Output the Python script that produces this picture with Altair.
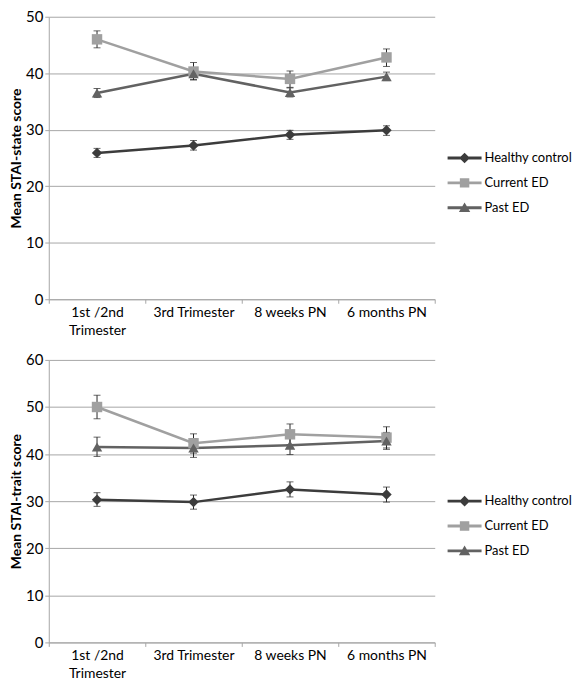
import altair as alt
import pandas as pd

categories = ["1st /2nd Trimester", "3rd Trimester", "8 weeks PN", "6 months PN"]
series = ["Healthy control", "Current ED", "Past ED"]
colors = ["#3c3c3c", "#a0a0a0", "#626262"]
marker_shapes = ["diamond", "square", "triangle-up"]

# STAI-state
state_healthy = [25.9, 27.2, 29.1, 29.9]
state_healthy_lo = [25.1, 26.4, 28.3, 29.0]
state_healthy_hi = [26.7, 28.1, 29.9, 30.7]
state_current = [46.0, 40.3, 39.0, 42.8]
state_current_lo = [44.5, 38.8, 37.5, 41.2]
state_current_hi = [47.5, 41.9, 40.4, 44.3]
state_past = [36.5, 39.9, 36.6, 39.4]
state_past_lo = [35.7, 38.9, 35.8, 38.7]
state_past_hi = [37.3, 40.8, 37.4, 40.2]

# STAI-trait
trait_healthy = [30.3, 29.8, 32.5, 31.4]
trait_healthy_lo = [28.9, 28.3, 30.9, 29.8]
trait_healthy_hi = [31.8, 31.3, 34.1, 33.0]
trait_current = [50.0, 42.3, 44.2, 43.5]
trait_current_lo = [47.5, 40.2, 42.0, 41.3]
trait_current_hi = [52.5, 44.3, 46.4, 45.8]
trait_past = [41.5, 41.3, 41.9, 42.8]
trait_past_lo = [39.5, 39.3, 39.9, 41.0]
trait_past_hi = [43.6, 43.3, 44.0, 44.6]

# legend symbols: short line with the marker on it
bar = "M-1.08,-0.09H1.08V0.09H-1.08Z"
legend_paths = [
    bar + " M0,-0.34L0.34,0L0,0.34L-0.34,0Z",
    bar + " M-0.3,-0.3H0.3V0.3H-0.3Z",
    bar + " M0,-0.34L0.36,0.27H-0.36Z",
]


def make_df(vals, los, his):
    rows = []
    for s, v, lo, hi in zip(series, vals, los, his):
        for c, a, b, d in zip(categories, v, lo, hi):
            rows.append({"series": s, "time": c, "value": a, "lo": b, "hi": d})
    return pd.DataFrame(rows)


state_df = make_df(
    [state_healthy, state_current, state_past],
    [state_healthy_lo, state_current_lo, state_past_lo],
    [state_healthy_hi, state_current_hi, state_past_hi],
)
trait_df = make_df(
    [trait_healthy, trait_current, trait_past],
    [trait_healthy_lo, trait_current_lo, trait_past_lo],
    [trait_healthy_hi, trait_current_hi, trait_past_hi],
)

FONT = "Lato"
GRID = "#a6a6a6"


def panel(df, ymax, title):
    base = alt.Chart(df)
    x = alt.X(
        "time:N",
        sort=categories,
        bandPosition=0.5,
        scale=alt.Scale(type="band", domain=categories, paddingInner=0, paddingOuter=0),
        axis=alt.Axis(
            title=None,
            labelAngle=0,
            tickBand="extent",
            tickSize=4,
            tickColor=GRID,
            domainColor=GRID,
            labelPadding=2,
            labelLineHeight=18,
            labelExpr="datum.value == '1st /2nd Trimester' ? ['1st /2nd', 'Trimester'] : datum.label",
        ),
    )
    yscale = alt.Scale(domain=[0, ymax], nice=False, zero=True)
    yaxis = alt.Axis(
        title=title,
        values=list(range(0, ymax + 1, 10)),
        grid=True,
        gridColor=GRID,
        domainColor=GRID,
        tickColor=GRID,
        tickSize=4,
        labelPadding=2,
        labelFontSize=15,
        titlePadding=2,
    )
    cscale = alt.Scale(domain=series, range=colors)

    rule = base.mark_rule(color="#262626", strokeWidth=1).encode(
        x=x, y=alt.Y("lo:Q", scale=yscale, axis=yaxis), y2="hi:Q"
    )
    cap_lo = base.mark_tick(color="#262626", size=7, thickness=1, orient="horizontal").encode(
        x=x, y=alt.Y("lo:Q", scale=yscale, axis=yaxis)
    )
    cap_hi = base.mark_tick(color="#262626", size=7, thickness=1, orient="horizontal").encode(
        x=x, y=alt.Y("hi:Q", scale=yscale, axis=yaxis)
    )
    line = base.mark_line(strokeWidth=2.5).encode(
        x=x,
        y=alt.Y("value:Q", scale=yscale, axis=yaxis),
        color=alt.Color("series:N", scale=cscale, legend=None),
    )
    pts = base.mark_point(filled=True, size=110, opacity=1).encode(
        x=x,
        y=alt.Y("value:Q", scale=yscale, axis=yaxis),
        color=alt.Color("series:N", scale=cscale, legend=None),
        shape=alt.Shape("series:N", scale=alt.Scale(domain=series, range=marker_shapes), legend=None),
    )
    leg = alt.Legend(
        title=None,
        orient="none",
        legendX=402,
        legendY=126,
        padding=0,
        rowPadding=2,
        symbolSize=1000,
        symbolStrokeWidth=0,
        symbolOpacity=1,
        labelOffset=4,
        labelFont=FONT,
        labelFontSize=13,
        labelColor="#000000",
    )
    legend_layer = base.transform_filter("false").mark_point(filled=True, opacity=1).encode(
        x=x,
        y=alt.Y("value:Q", scale=yscale, axis=yaxis),
        color=alt.Color("series:N", scale=cscale, legend=leg),
        shape=alt.Shape("series:N", scale=alt.Scale(domain=series, range=legend_paths), legend=leg),
    )
    return (
        alt.layer(rule, cap_lo, cap_hi, line, pts, legend_layer)
        .resolve_scale(color="independent", shape="independent")
        .properties(width=388, height=284)
    )


top = panel(state_df, 50, "Mean STAI-state score")
bottom = panel(trait_df, 60, "Mean STAI-trait score")

chart = (
    alt.vconcat(top, bottom, spacing=16)
    .properties(padding={"left": 1, "top": 0, "right": 0, "bottom": 0})
    .configure_view(stroke=None)
    .configure_axis(
        labelFont=FONT,
        labelFontSize=14,
        labelColor="#000000",
        titleFont=FONT,
        titleFontSize=14,
        titleFontWeight="bold",
        titleColor="#000000",
    )
)

chart.save("out.html", embed_options={"renderer": "svg", "actions": False})
